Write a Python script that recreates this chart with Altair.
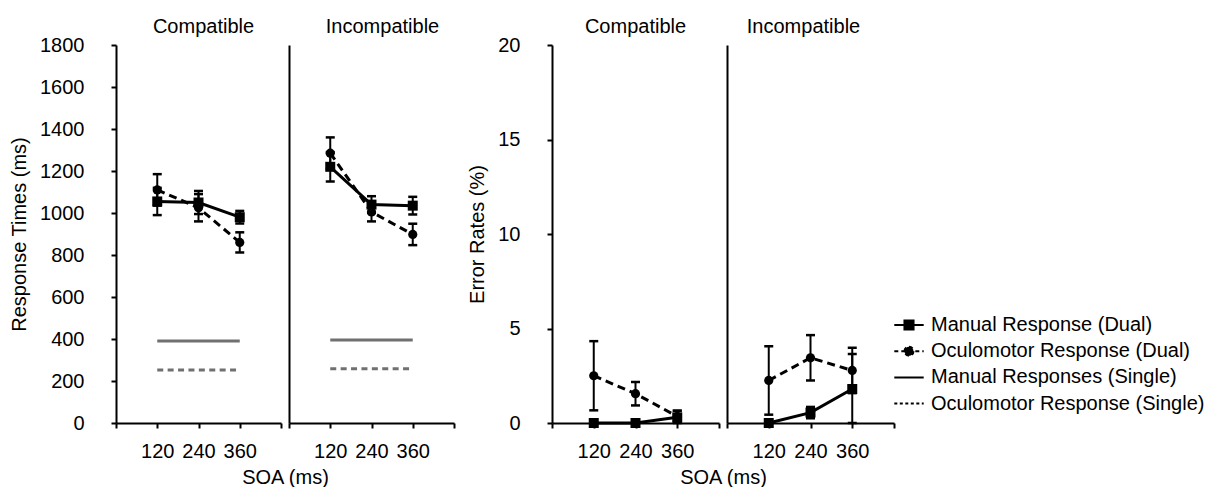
import altair as alt
import pandas as pd

FONT = "Liberation Sans"

# ---------------- data ----------------
soa_levels = [120, 240, 360]
x_ticks = [0, 120, 240, 360, 480]
conditions = ["Compatible", "Incompatible"]

# Response times (ms), dual-task
rt_comp_manual = [1055, 1050, 980]
rt_comp_manual_err = [65, 55, 30]
rt_comp_oculo = [1110, 1025, 860]
rt_comp_oculo_err = [75, 65, 48]
rt_incomp_manual = [1220, 1040, 1035]
rt_incomp_manual_err = [70, 40, 42]
rt_incomp_oculo = [1285, 1005, 898]
rt_incomp_oculo_err = [75, 45, 51]
# Response times (ms), single-task  [Compatible, Incompatible]
rt_single_manual = [390, 395]
rt_single_oculo = [252, 258]

# Error rates (%), dual-task
er_comp_manual = [0.0, 0.0, 0.3]
er_comp_manual_err = [0.0, 0.0, 0.35]
er_comp_oculo = [2.5, 1.55, 0.35]
er_comp_oculo_err = [1.83, 0.62, 0.3]
er_incomp_manual = [0.0, 0.55, 1.8]
er_incomp_manual_err = [0.0, 0.3, 1.85]
er_incomp_oculo = [2.25, 3.45, 2.78]
er_incomp_oculo_err = [1.81, 1.2, 1.2]

legend_labels = [
    "Manual Response (Dual)",
    "Oculomotor Response (Dual)",
    "Manual Responses (Single)",
    "Oculomotor Response (Single)",
]

# ---------------- styling ----------------
legend_paths = [
    "M-2.1,0H2.1M-0.65,-0.65H0.65V0.65H-0.65Z",
    "M-2.1,0H2.1M-0.65,0A0.65,0.65 0 1,1 0.65,0A0.65,0.65 0 1,1 -0.65,0Z",
    "M-2.1,0H2.1",
    "M-2.1,0H2.1",
]
legend_dashes = [[1, 0], [4, 3], [1, 0], [3, 2.5]]

GRAY = "#707070"


def dual_frame(manual, manual_err, oculo, oculo_err):
    rows = []
    for name, vals, errs in (("Manual", manual, manual_err), ("Oculomotor", oculo, oculo_err)):
        for s, v, e in zip(soa_levels, vals, errs):
            rows.append({"soa": s, "value": v, "lo": max(v - e, 0), "hi": v + e,
                         "err": e, "series": name})
    return pd.DataFrame(rows)


def make_panel(df, single_manual, single_oculo, y_domain, y_step, y_title, first,
               width, title, title_dx, title_offset, x_title_x, legend_layer=False):
    y_axis_kwargs = dict(grid=False, domainColor="black", domainWidth=2,
                         values=list(range(y_domain[0], y_domain[1] + 1, y_step)))
    if first:
        y_axis = alt.Axis(title=y_title, tickSize=5, tickWidth=2, tickColor="black",
                          labelFontSize=20, labelColor="black", labelPadding=27, format="d",
                          titleFontSize=20, titleFontWeight="normal", titleColor="black",
                          titlePadding=10, **y_axis_kwargs)
    else:
        y_axis = alt.Axis(title=None, labels=False, ticks=False, **y_axis_kwargs)

    common_x = dict(values=x_ticks, grid=False, tickSize=5, tickWidth=2,
                    tickColor="black", domainColor="black", domainWidth=2,
                    labelFontSize=20, labelColor="black", labelPadding=13,
                    labelFlush=False,
                    labelExpr="(datum.value == 0 || datum.value == 480) ? '' : datum.label")
    if x_title_x is not None:
        x_axis = alt.Axis(title="SOA (ms)", titleFontSize=20, titleFontWeight="normal",
                          titleColor="black", titleX=x_title_x, titlePadding=6, **common_x)
    else:
        x_axis = alt.Axis(title=None, **common_x)

    xs = alt.Scale(domain=[0, 480], nice=False, zero=False)
    ys = alt.Scale(domain=list(y_domain), nice=False)

    def X(field):
        return alt.X(field, type="quantitative", scale=xs, axis=x_axis)

    def Y(field):
        return alt.Y(field, type="quantitative", scale=ys, axis=y_axis)

    base = alt.Chart(df)
    layers = []

    if single_manual is not None:
        sdf = pd.DataFrame({"x0": [soa_levels[0]] * 2, "x1": [soa_levels[-1]] * 2,
                            "value": [single_manual, single_oculo],
                            "series": ["Manual", "Oculomotor"]})
        sbase = alt.Chart(sdf)
        layers.append(sbase.transform_filter("datum.series == 'Manual'")
                      .mark_rule(color=GRAY, strokeWidth=3)
                      .encode(x=X("x0"), x2="x1", y=Y("value")))
        layers.append(sbase.transform_filter("datum.series == 'Oculomotor'")
                      .mark_rule(color=GRAY, strokeWidth=3, strokeDash=[6, 4.4])
                      .encode(x=X("x0"), x2="x1", y=Y("value")))

    eb = base.transform_filter("datum.err > 0")
    layers.append(eb.mark_rule(color="black", strokeWidth=2)
                  .encode(x=X("soa"), y=Y("lo"), y2="hi"))
    layers.append(eb.mark_tick(color="black", orient="horizontal", size=9, thickness=2.5, opacity=1)
                  .encode(x=X("soa"), y=Y("lo")))
    layers.append(eb.mark_tick(color="black", orient="horizontal", size=9, thickness=2.5, opacity=1)
                  .encode(x=X("soa"), y=Y("hi")))

    layers.append(base.transform_filter("datum.series == 'Oculomotor'")
                  .mark_line(color="black", strokeWidth=3, strokeDash=[8, 5])
                  .encode(x=X("soa"), y=Y("value")))
    layers.append(base.transform_filter("datum.series == 'Manual'")
                  .mark_line(color="black", strokeWidth=3)
                  .encode(x=X("soa"), y=Y("value")))
    layers.append(base.transform_filter("datum.series == 'Oculomotor'")
                  .mark_point(shape="circle", filled=True, size=85, color="black", opacity=1)
                  .encode(x=X("soa"), y=Y("value")))
    layers.append(base.transform_filter("datum.series == 'Manual'")
                  .mark_point(shape="square", filled=True, size=100, color="black", opacity=1)
                  .encode(x=X("soa"), y=Y("value")))

    if legend_layer:
        leg = alt.Legend(title=None, orient="none", legendX=783, legendY=270,
                         direction="vertical", labelFontSize=20, labelColor="black",
                         labelFont=FONT, labelLimit=400, symbolSize=196, labelOffset=12,
                         rowPadding=6.2, padding=0, symbolStrokeWidth=2,
                         symbolStrokeColor="black", symbolFillColor="black")
        ldf = pd.DataFrame({"item": legend_labels})
        layers.append(alt.Chart(ldf).transform_filter("false")
                      .mark_point(filled=False, fill="black", strokeWidth=2, opacity=1)
                      .encode(color=alt.Color("item:N", scale=alt.Scale(domain=legend_labels, range=["black"] * 4), legend=leg),
                              shape=alt.Shape("item:N", scale=alt.Scale(domain=legend_labels, range=legend_paths), legend=leg),
                              strokeDash=alt.StrokeDash("item:N", scale=alt.Scale(domain=legend_labels, range=legend_dashes), legend=leg)))

    return alt.layer(*layers).properties(
        width=width, height=378,
        title=alt.TitleParams(title, fontSize=20, fontWeight="normal", color="black",
                              anchor="middle", frame="group", baseline="alphabetic",
                              offset=title_offset, dx=title_dx))


rt_comp = dual_frame(rt_comp_manual, rt_comp_manual_err, rt_comp_oculo, rt_comp_oculo_err)
rt_incomp = dual_frame(rt_incomp_manual, rt_incomp_manual_err, rt_incomp_oculo, rt_incomp_oculo_err)
er_comp = dual_frame(er_comp_manual, er_comp_manual_err, er_comp_oculo, er_comp_oculo_err)
er_incomp = dual_frame(er_incomp_manual, er_incomp_manual_err, er_incomp_oculo, er_incomp_oculo_err)

p1 = make_panel(rt_comp, rt_single_manual[0], rt_single_oculo[0], (0, 1800), 200,
                "Response Times (ms)", True, 165, conditions[0], 5, -18, 169)
p2 = make_panel(rt_incomp, rt_single_manual[1], rt_single_oculo[1], (0, 1800), 200,
                "Response Times (ms)", False, 165, conditions[1], 11, -8, None)
p3 = make_panel(er_comp, None, None, (0, 20), 5,
                "Error Rates (%)", True, 167, conditions[0], 0, -18, 171)
p4 = make_panel(er_incomp, None, None, (0, 20), 5,
                "Error Rates (%)", False, 167, conditions[1], -7, -8, None, legend_layer=True)

spacer = alt.Chart(pd.DataFrame({"v": [0]})).mark_point(opacity=0).properties(width=82, height=378)

chart = alt.hconcat(p1, p2, spacer, p3, p4, spacing=8, bounds="flush").properties(
    padding={"left": 9, "top": 17, "right": 0, "bottom": 0}
).configure(font=FONT).configure_view(strokeWidth=0)

chart.save("out.html", embed_options={"renderer": "svg", "actions": False})
